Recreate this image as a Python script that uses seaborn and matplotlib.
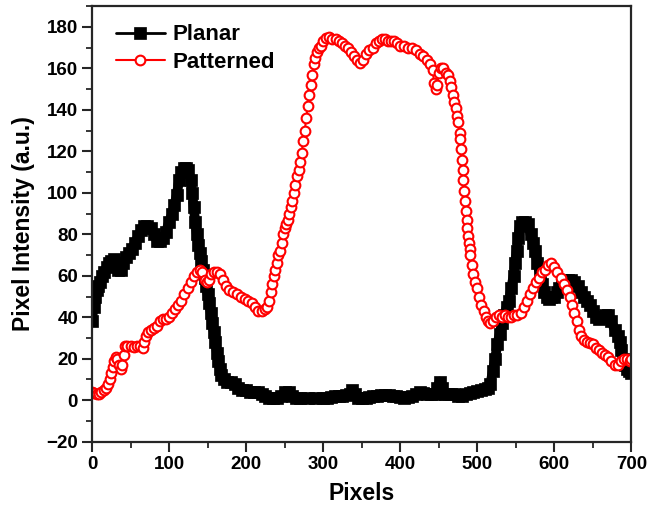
import matplotlib
matplotlib.use("Agg")
import matplotlib.pyplot as plt
from matplotlib.ticker import MultipleLocator
import seaborn as sns
import pandas as pd

# Line-profile intensity along the scan, planar reference sample
planar_x = [0, 2, 4, 6, 8, 10, 13, 16, 19, 22, 25, 28, 31, 34, 37, 40, 44, 48, 52, 56,
            60, 64, 68, 72, 76, 80, 84, 88, 92, 96, 100, 104, 107, 110, 113, 116, 119, 122, 125, 128,
            130, 132, 134, 136, 138, 140, 142, 144, 146, 148, 150, 152, 154, 156, 158, 160, 162, 164, 166, 168,
            171, 175, 180, 185, 190, 195, 200, 205, 210, 215, 220, 225, 230, 235, 240, 245, 250, 255, 260, 265,
            270, 280, 290, 300, 305, 310, 315, 320, 325, 330, 335, 338, 341, 345, 350, 355, 360, 365, 370, 375,
            380, 385, 390, 395, 400, 405, 410, 415, 420, 425, 430, 435, 440, 445, 448, 451, 454, 458, 462, 466,
            470, 475, 480, 485, 490, 495, 500, 505, 510, 514, 517, 520, 523, 526, 529, 532, 535, 538, 541, 544,
            547, 549, 551, 553, 555, 558, 562, 566, 569, 572, 575, 578, 581, 584, 587, 590, 593, 596, 600, 603,
            606, 610, 614, 618, 622, 626, 630, 634, 638, 642, 646, 650, 654, 658, 662, 666, 670, 674, 678, 682,
            685, 687, 689, 691, 694, 697, 700]
planar_y = [38, 45, 50, 53, 55, 57, 60, 62, 64, 66, 67, 68, 66, 63, 63, 66, 69, 71, 73, 76,
            79, 82, 84, 84, 83, 80, 77, 77, 78, 81, 86, 90, 94, 99, 106, 110, 112, 112, 111, 106,
            100, 93, 86, 80, 75, 71, 67, 63, 59, 55, 51, 47, 42, 37, 33, 28, 23, 19, 15, 12,
            10, 9, 9, 8, 6, 5, 5, 4, 4, 4, 3, 2, 1, 1, 1, 2, 4, 4, 2, 1,
            1, 1, 1, 1, 1, 1.5, 2, 2, 2, 2.5, 3, 5, 3, 1, 1, 1, 1.5, 2, 2, 2.5,
            2.5, 2.5, 2, 2, 1.5, 1, 1.5, 2, 3, 4, 3.5, 3, 3, 3, 6, 9, 6, 3, 3, 3,
            3, 2, 2, 3, 3.5, 4, 4.5, 5, 5.5, 6, 8, 14, 20, 27, 32, 37, 41, 45, 48, 54,
            60, 66, 72, 78, 84, 86, 86, 85, 80, 76, 72, 66, 61, 56, 52, 50, 49, 50, 50, 52,
            54, 57, 58, 58, 58, 57, 55, 52, 50, 48, 46, 43, 40, 39, 40, 41, 41, 38, 34, 31,
            28, 24, 20, 17, 15, 14, 13]

# Line-profile intensity along the scan, patterned sample
patterned_x = [0, 3, 6, 9, 12, 15, 18, 21, 23, 25, 27, 29, 31, 33, 35, 37, 39, 41, 43, 46,
               50, 54, 58, 62, 66, 68, 70, 73, 76, 80, 84, 88, 92, 96, 100, 104, 108, 112, 116, 120,
               124, 128, 132, 136, 140, 143, 146, 149, 152, 155, 158, 162, 166, 170, 174, 178, 183, 188, 193, 198,
               203, 208, 212, 216, 220, 224, 227, 230, 232, 234, 236, 238, 240, 242, 244, 246, 248, 250, 252, 254,
               256, 258, 260, 262, 264, 266, 268, 270, 272, 274, 276, 278, 280, 282, 284, 286, 288, 290, 292, 294,
               297, 300, 304, 308, 312, 316, 320, 324, 328, 332, 336, 340, 344, 348, 352, 356, 360, 364, 368, 372,
               376, 380, 384, 388, 392, 396, 400, 405, 410, 415, 420, 425, 430, 435, 439, 442, 444, 446, 448, 450,
               453, 456, 459, 462, 464, 466, 468, 470, 472, 474, 475.5, 477, 478, 479, 480, 481, 482, 483, 484, 485,
               486, 487, 488, 489, 490, 491, 493, 495, 497, 499, 502, 505, 508, 511, 514, 517, 520, 524, 528, 532,
               536, 540, 544, 548, 552, 556, 560, 564, 568, 572, 576, 580, 584, 588, 592, 596, 600, 604, 608, 612,
               616, 620, 623, 626, 629, 632, 635, 638, 642, 646, 650, 654, 658, 662, 666, 670, 674, 678, 682, 686,
               690, 694, 698, 700]
patterned_y = [4, 3.5, 3, 3, 4, 5, 6, 8, 10, 13, 16, 19, 21, 20, 17, 15, 17, 22, 26, 26,
               26, 25.5, 26, 26, 25, 28, 31, 33, 34, 35, 36, 38, 39, 39, 40, 42, 44, 46, 48, 51,
               54, 57, 60, 62, 63, 62, 58, 57, 58, 61, 62, 62, 61, 58, 55, 53, 52, 51, 50, 49,
               48, 47, 45, 43, 43, 44, 45, 48, 52, 56, 60, 63, 66, 70, 72, 76, 80, 83, 85, 87,
               90, 93, 96, 100, 104, 108, 111, 115, 119, 125, 130, 136, 142, 147, 152, 157, 162, 165, 168, 170,
               171, 173, 174.5, 175, 174, 174, 173, 172, 171, 170, 168, 166, 164, 162.5, 164, 167, 169, 170, 172, 173,
               174, 174, 173, 173, 173, 172, 171, 171, 170, 170, 169, 167, 166, 164, 162, 159, 153, 150, 152, 158,
               160, 160, 158, 157, 154, 151, 147, 144, 141, 137, 134, 129, 126, 121, 116, 111, 106, 101, 96, 91,
               87, 83, 79, 76, 73, 70, 65, 61, 57, 54, 50, 46, 43, 40, 38, 37, 38, 40, 41, 40,
               41, 40, 40, 41, 41, 42, 45, 48, 51, 54, 57, 59, 62, 63, 65, 66, 64, 62, 59, 56,
               53, 50, 46, 42, 38, 34, 31, 29, 28, 27.5, 27, 25, 24, 23, 22, 21, 19, 17, 17, 19,
               20, 20, 19, 20]

series_names = ["Planar", "Patterned"]
x_ticks = [0, 100, 200, 300, 400, 500, 600, 700]
y_ticks = [-20, 0, 20, 40, 60, 80, 100, 120, 140, 160, 180]

sns.set_theme(style="ticks")
plt.rcParams["font.family"] = ["Liberation Sans", "DejaVu Sans"]
plt.rcParams["font.weight"] = "bold"
plt.rcParams["text.color"] = "black"
plt.rcParams["axes.labelcolor"] = "black"
plt.rcParams["xtick.labelcolor"] = "black"
plt.rcParams["ytick.labelcolor"] = "black"

df_planar = pd.DataFrame({"Pixels": planar_x, "Intensity": planar_y})
df_patterned = pd.DataFrame({"Pixels": patterned_x, "Intensity": patterned_y})

fig = plt.figure(figsize=(6.58, 5.13), dpi=100)
ax = fig.add_axes([0.1398, 0.139, 0.8199, 0.849])

# Planar: dense filled squares joined by a heavy line, reading as one thick band
sns.lineplot(data=df_planar, x="Pixels", y="Intensity", ax=ax, color="black",
             linewidth=7, marker="s", markersize=8.5, markeredgewidth=0.5,
             markeredgecolor="black", markerfacecolor="black",
             solid_joinstyle="round", solid_capstyle="round",
             label=series_names[0], sort=False, estimator=None)
# Patterned: open red circles
sns.lineplot(data=df_patterned, x="Pixels", y="Intensity", ax=ax, color="#ff0000",
             linewidth=1.5, marker="o", markersize=7, markeredgewidth=1.5,
             markeredgecolor="#ff0000", markerfacecolor="white",
             label=series_names[1], sort=False, estimator=None)

ax.set_xlim(0, 700)
ax.set_ylim(-20, 190)
ax.set_xticks(x_ticks)
ax.set_yticks(y_ticks)
ax.xaxis.set_minor_locator(MultipleLocator(50))
ax.yaxis.set_minor_locator(MultipleLocator(10))

for side in ["left", "bottom", "right", "top"]:
    ax.spines[side].set_visible(True)
    ax.spines[side].set_color("#262626")
    ax.spines[side].set_linewidth(1.6)

ax.tick_params(axis="both", which="major", direction="out", length=7, width=1.5,
               color="#262626", labelsize=13.5, labelcolor="black", pad=3)
ax.tick_params(axis="both", which="minor", direction="out", length=4, width=1.3,
               color="#262626")
ax.tick_params(top=False, right=False, which="both")
for lbl in ax.get_xticklabels() + ax.get_yticklabels():
    lbl.set_fontweight("bold")

ax.set_xlabel("Pixels", fontsize=16.5, fontweight="bold", color="black", labelpad=7)
ax.set_ylabel("Pixel Intensity (a.u.)", fontsize=16.5, fontweight="bold", color="black", labelpad=8)

leg = ax.legend(loc="upper left", bbox_to_anchor=(0.044, 0.958), frameon=False,
                borderpad=0, borderaxespad=0, handlelength=2.2, handletextpad=0.35,
                labelspacing=0.3, prop={"size": 16, "weight": "bold"})
for txt in leg.get_texts():
    txt.set_color("black")
# Legend keys use a thin stroke through the symbol
leg.get_lines()[0].set_linewidth(2)
leg.get_lines()[1].set_linewidth(1.5)

fig.savefig("out.png", dpi=100)
